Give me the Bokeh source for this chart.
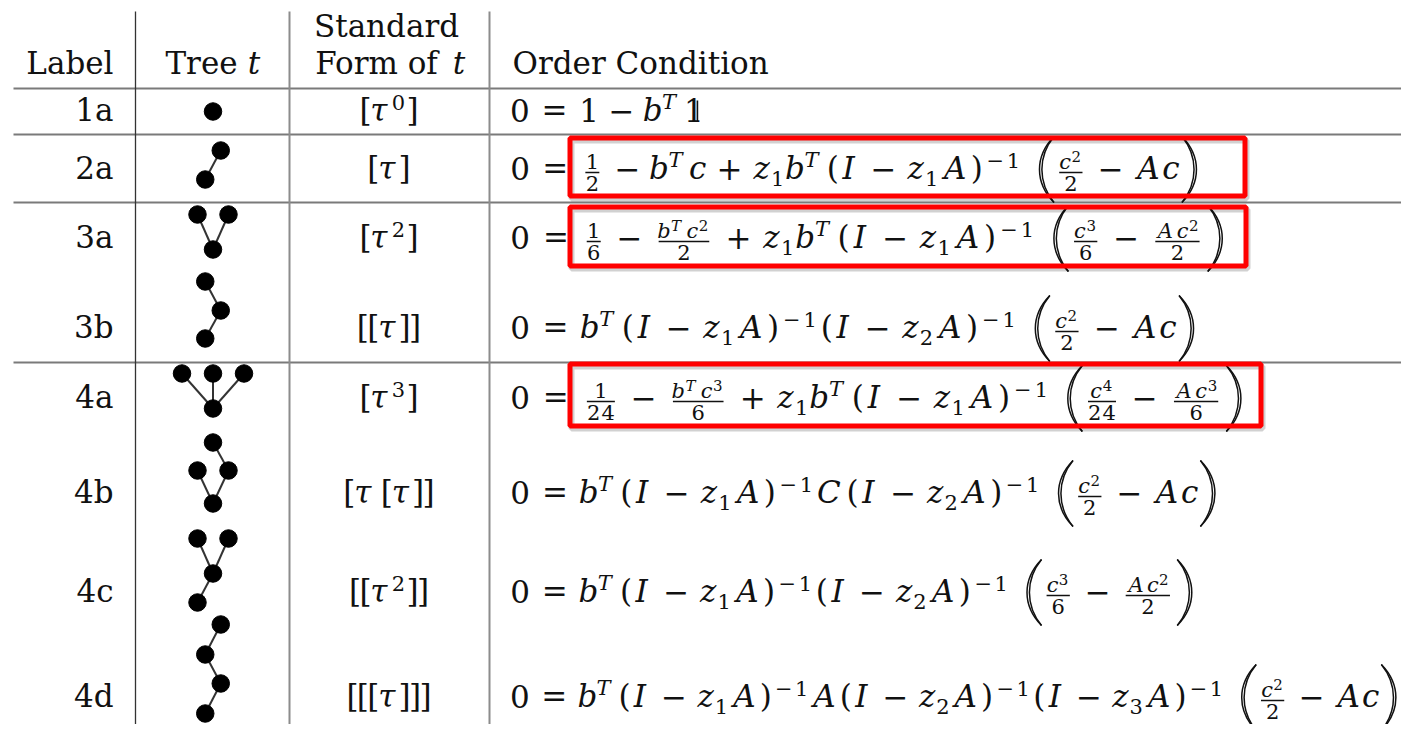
from bokeh.plotting import figure
from bokeh.models import Range1d, ColumnDataSource
from bokeh.core.properties import value
from bokeh.embed import file_html
from bokeh.resources import INLINE

# ---------------- data ----------------
labels = ["1a", "2a", "3a", "3b", "4a", "4b", "4c", "4d"]
standard_forms = [r"[\tau^0]", r"[\tau]", r"[\tau^2]", r"[[\tau]]",
                  r"[\tau^3]", r"[\tau\,[\tau]]", r"[[\tau^2]]", r"[[[\tau]]]"]
order_conditions = [
    r"0 = 1 - b^T\one",
    r"0 = \frac{1}{2} - b^Tc + z_1b^T(I - z_1A)^{-1}\,\left(\frac{c^2}{2} - Ac\right)",
    r"0 = \frac{1}{6} - \frac{b^Tc^2}{2} + z_1b^T(I - z_1A)^{-1}\,\left(\frac{c^3}{6} - \frac{Ac^2}{2}\right)",
    r"0 = b^T(I - z_1A)^{-1}(I - z_2A)^{-1}\,\left(\frac{c^2}{2} - Ac\right)",
    r"0 = \frac{1}{24} - \frac{b^Tc^3}{6} + z_1b^T(I - z_1A)^{-1}\,\left(\frac{c^4}{24} - \frac{Ac^3}{6}\right)",
    r"0 = b^T(I - z_1A)^{-1}C(I - z_2A)^{-1}\,\left(\frac{c^2}{2} - Ac\right)",
    r"0 = b^T(I - z_1A)^{-1}(I - z_2A)^{-1}\,\left(\frac{c^3}{6} - \frac{Ac^2}{2}\right)",
    r"0 = b^T(I - z_1A)^{-1}A(I - z_2A)^{-1}(I - z_3A)^{-1}\,\left(\frac{c^2}{2} - Ac\right)",
]
# rooted trees: node column offset, node height above the root, parent index
tree_cols = [[0], [-1, 1], [0, -2, 2], [-1, 1, -1], [0, -4, 0, 4],
             [0, -2, 2, 0], [-2, 0, -2, 2], [-1, 1, -1, 1]]
tree_heights = [[0], [0, 29], [0, 35, 35], [0, 28, 57], [0, 35, 35, 35],
                [0, 33, 33, 61], [0, 29, 64, 64], [0, 30, 59, 89]]
tree_parents = [[-1], [-1, 0], [-1, 0, 0], [-1, 0, 1], [-1, 0, 0, 0],
                [-1, 0, 0, 2], [-1, 0, 1, 1], [-1, 0, 1, 2]]
highlighted = ["2a", "3a", "4a"]
header_label = "Label"
header_tree = ("Tree", "t")
header_form = ("Standard", "Form of", "t")
header_cond = "Order Condition"

# ---------------- layout ----------------
PW_, PH_ = 1401, 724
FONT = "DejaVu Serif"
INK = "#111111"
KBASE = 0.355                 # baseline correction (fraction of font size)
row_baseline = [121, 179, 248, 338, 408, 503, 602, 707]
tree_root_off = [-10, 0, 1, 0, 0, 0, 0, 6]
eq_hscale = [1.0, 1.015, 1.032, 1.024, 1.031, 1.011, 1.008, 0.995]
TREE_CX, TREE_UNIT = 212.5, 7.75
LABEL_RIGHT = 113
FORM_CX = 388.5
EQ_X = 510
hrules_y = [88, 134, 202, 362]
vrules = [(135, "#333333", 1.3), (289, "#8c8c8c", 2.0), (489, "#8c8c8c", 2.0)]
red_boxes = {"2a": (567, 1247, 135, 198), "3a": (567, 1248, 204, 268), "4a": (567, 1263, 361, 428)}

FS = {0: 31, 1: 21, 2: 15}          # font size per math level
HS = {0: 37.7, 1: 28.0, 2: 19.5}    # horizontal em per math level
CAP = {0: 22.6, 1: 15.3, 2: 11.0}
SUP = {0: 12, 1: 7, 2: 5}
SUB = {0: 6, 1: 3, 2: 2}
BAR, GAPN, GAPD = 7.0, 3.5, 3.5
PTOP, PBOT, PINK = 43, 23, 14.5

WID_UP = {str(d): 0.5 for d in range(10)}
WID_UP.update({'(': 0.389, ')': 0.389, '[': 0.278, ']': 0.278, '=': 0.778,
               '+': 0.778, '\u2212': 0.778, 'one': 0.6})
WID_IT = {'b': 0.429, 'c': 0.433, 'z': 0.465, 'A': 0.75, 'I': 0.44, 'T': 0.584,
          'C': 0.715, 't': 0.361, '\u03c4': 0.437}
ITC = {'T': 0.13, 'I': 0.078, 'C': 0.071, 'z': 0.044, '\u03c4': 0.113}


def tokenize(s):
    toks, i = [], 0
    while i < len(s):
        ch = s[i]
        if ch.isspace():
            i += 1
            continue
        if ch == '\\':
            j = i + 1
            if j < len(s) and not s[j].isalpha():
                toks.append(s[i:j + 1]); i = j + 1; continue
            while j < len(s) and s[j].isalpha():
                j += 1
            toks.append(s[i:j]); i = j
            continue
        toks.append(ch); i += 1
    return toks


def glyph(ch, italic, kind):
    return {'kind': kind, 'type': 'glyph', 'ch': ch, 'italic': italic}


def parse_arg(toks, i):
    if toks[i] == '{':
        atoms, i = parse_list(toks, i + 1, '}')
        return atoms, i + 1
    atoms, _ = parse_list([toks[i]], 0)
    return atoms, i + 1


def parse_list(toks, i, stop=None):
    atoms = []
    while i < len(toks):
        t = toks[i]
        if stop is not None and t == stop:
            return atoms, i
        if t in ('^', '_'):
            arg, i = parse_arg(toks, i + 1)
            atoms[-1]['sup' if t == '^' else 'sub'] = arg
            continue
        if t == '\\frac':
            num, i = parse_arg(toks, i + 1)
            den, i = parse_arg(toks, i)
            atoms.append({'kind': 'inner', 'type': 'frac', 'num': num, 'den': den})
            continue
        if t == '\\left':
            l = toks[i + 1]
            body, i = parse_list(toks, i + 2, '\\right')
            r = toks[i + 1]
            atoms.append({'kind': 'inner', 'type': 'delim', 'l': l, 'r': r, 'body': body})
            i += 2
            continue
        i += 1
        if t == '\\,':
            atoms.append({'kind': 'space', 'w': 1 / 6})
        elif t == '\\;':
            atoms.append({'kind': 'space', 'w': 5 / 18})
        elif t == '\\tau':
            atoms.append(glyph('\u03c4', True, 'ord'))
        elif t == '\\one':
            atoms.append(glyph('one', False, 'ord'))
        elif t.isdigit():
            atoms.append(glyph(t, False, 'ord'))
        elif t.isalpha():
            atoms.append(glyph(t, True, 'ord'))
        elif t == '=':
            atoms.append(glyph('=', False, 'rel'))
        elif t == '+':
            atoms.append(glyph('+', False, 'bin'))
        elif t == '-':
            atoms.append(glyph('\u2212', False, 'bin'))
        elif t in '([':
            atoms.append(glyph(t, False, 'open'))
        elif t in ')]':
            atoms.append(glyph(t, False, 'close'))
    return atoms, i


def shift(prims, dx, dy):
    out = []
    for q in prims:
        if q[0] == 'g':
            out.append(('g', q[1] + dx, q[2] + dy, q[3], q[4], q[5]))
        elif q[0] == 'r':
            out.append(('r', q[1] + dx, q[2] + dx, q[3] + dy))
        elif q[0] == 'p':
            out.append(('p', q[1] + dx, q[2] + dx, q[3], q[4] + dy, q[5] + dy))
        elif q[0] == 's':
            out.append(('s', q[1] + dx, q[2] + dy, q[3] + dy))
    return out


def hstretch(prims, x0, s):
    """spread positions about x0 by factor s, keeping every mark's own size"""
    f = lambda x: x0 + (x - x0) * s
    out = []
    for q in prims:
        if q[0] == 'g':
            out.append(('g', f(q[1]), q[2], q[3], q[4], q[5]))
        elif q[0] == 'r':
            c, hw = (q[1] + q[2]) / 2, (q[2] - q[1]) / 2
            out.append(('r', f(c) - hw, f(c) + hw, q[3]))
        elif q[0] == 'p':
            c, hw = (q[1] + q[2]) / 2, (q[2] - q[1]) / 2
            out.append(('p', f(c) - hw, f(c) + hw, q[3], q[4], q[5]))
        elif q[0] == 's':
            out.append(('s', f(q[1]), q[2], q[3]))
    return out


def gap(a, b, level):
    if level > 0:
        return 0.0
    if a == 'bin' or b == 'bin':
        return 4 / 18
    if a == 'rel' and b not in ('rel', 'close'):
        return 5 / 18
    if b == 'rel' and a not in ('rel', 'open'):
        return 5 / 18
    if a == 'inner' and b != 'close':
        return 1 / 6
    if b == 'inner' and a in ('ord', 'close', 'inner'):
        return 1 / 6
    return 0.0


def layout_atom(a, level):
    H = HS[level]
    ic = 0.0
    if a['type'] == 'glyph':
        ch, it = a['ch'], a['italic']
        base = (WID_IT if it else WID_UP)[ch] * H
        ic = ITC.get(ch, 0) * H if it else 0.0
        if ch == 'one':
            prims = [('g', base / 2, 0.0, '1', level, False),
                     ('s', base / 2 + 3.5, -CAP[level] + 1.5, -0.5)]
        else:
            prims = [('g', base / 2, 0.0, ch, level, it)]
        wn = base + ic
    elif a['type'] == 'frac':
        sl = min(level + 1, 2)
        nw, npr = layout(a['num'], sl)
        dw, dpr = layout(a['den'], sl)
        m = max(nw, dw)
        nd = 0.12 * H
        prims = (shift(npr, nd + (m - nw) / 2, -(BAR + GAPN)) +
                 shift(dpr, nd + (m - dw) / 2, -BAR + GAPD + CAP[sl]) +
                 [('r', nd, nd + m, -BAR)])
        wn = m + 2 * nd
    else:
        bw, bpr = layout(a['body'], level)
        pw = 0.5 * H
        prims = ([('p', 4.0, 4.0 + PINK, 'l', -PTOP, PBOT)] + shift(bpr, pw, 0) +
                 [('p', pw + bw + 2.5, pw + bw + 2.5 + PINK, 'r', -PTOP, PBOT)])
        wn = 2 * pw + bw + 4
    sup, sub = a.get('sup'), a.get('sub')
    if sup or sub:
        sl = min(level + 1, 2)
        extra = 0.0
        if sup:
            sw, sp = layout(sup, sl)
            prims += shift(sp, wn, -SUP[level])
            extra = max(extra, sw)
        if sub:
            bw2, bp = layout(sub, sl)
            prims += shift(bp, wn - ic, SUB[level])
            extra = max(extra, bw2 - ic)
        wn += extra + 0.05 * H
    return wn, prims


def layout(atoms, level):
    H = HS[level]
    kinds = [a['kind'] for a in atoms]
    idxs = [n for n, k in enumerate(kinds) if k != 'space']
    for pos, n in enumerate(idxs):
        if kinds[n] == 'bin':
            prev = kinds[idxs[pos - 1]] if pos > 0 else None
            nxt = kinds[idxs[pos + 1]] if pos + 1 < len(idxs) else None
            if prev in (None, 'bin', 'rel', 'open') or nxt in (None, 'rel', 'close'):
                kinds[n] = 'ord'
    x, prims, prevk = 0.0, [], None
    for a, k in zip(atoms, kinds):
        if k == 'space':
            x += a['w'] * H
            continue
        if prevk is not None:
            x += gap(prevk, k, level) * H
        w, pp = layout_atom(a, level)
        prims += shift(pp, x, 0)
        x += w
        prevk = k
    return x, prims


def typeset(tex):
    atoms, _ = parse_list(tokenize(tex), 0)
    return layout(atoms, 0)


def by(y, size):
    """screen y for a text whose alphabetic baseline should sit at y"""
    return y - KBASE * size


# collect primitives
all_prims = []
for r, lab in enumerate(labels):
    y0 = row_baseline[r]
    w, pr = typeset(standard_forms[r])
    all_prims += shift(pr, FORM_CX - w / 2, y0)
    w, pr = typeset(order_conditions[r])
    all_prims += hstretch(shift(pr, EQ_X, y0), EQ_X, eq_hscale[r])

tx, ty, tt, tsz, tst = [], [], [], [], []
rx0, rx1, ry = [], [], []
sx, sy0, sy1 = [], [], []
bz = dict(x0=[], y0=[], x1=[], y1=[], cx0=[], cy0=[], cx1=[], cy1=[])
for q in all_prims:
    if q[0] == 'g':
        tx.append(q[1]); ty.append(by(q[2], FS[q[4]])); tt.append(q[3])
        tsz.append("%dpx" % FS[q[4]]); tst.append("italic" if q[5] else "normal")
    elif q[0] == 'r':
        rx0.append(q[1]); rx1.append(q[2]); ry.append(q[3])
    elif q[0] == 's':
        sx.append(q[1]); sy0.append(q[2]); sy1.append(q[3])
    else:
        xl, xr, side, yt, yb = q[1], q[2], q[3], q[4], q[5]
        w = xr - xl
        h = yb - yt
        for extra in (0.0, 3.2):
            if side == 'l':
                xe = xr
                c = xl - w / 3 + extra
            else:
                xe = xl
                c = xr + w / 3 - extra
            bz['x0'].append(xe); bz['y0'].append(yt)
            bz['x1'].append(xe); bz['y1'].append(yb)
            bz['cx0'].append(c); bz['cy0'].append(yt + 0.3 * h)
            bz['cx1'].append(c); bz['cy1'].append(yb - 0.3 * h)

# ---------------- figure ----------------
p = figure(width=PW_, height=PH_, x_range=Range1d(0, PW_), y_range=Range1d(PH_, 0),
           output_backend="svg", toolbar_location=None, x_axis_type=None, y_axis_type=None,
           min_border=0)
p.grid.visible = False
p.outline_line_color = None
p.background_fill_color = "white"
p.border_fill_color = "white"

# table rules
p.segment(x0=[13] * len(hrules_y), x1=[PW_] * len(hrules_y), y0=hrules_y, y1=hrules_y,
          line_color="#7a7a7a", line_width=2)
for vx, vc, vw in vrules:
    p.segment(x0=[vx], x1=[vx], y0=[11], y1=[PH_], line_color=vc, line_width=vw)

# trees
ex0, ey0, ex1, ey1, nx, ny = [], [], [], [], [], []
for r in range(len(labels)):
    root_y = row_baseline[r] + tree_root_off[r]
    xs = [TREE_CX + c * TREE_UNIT for c in tree_cols[r]]
    ys = [root_y - h for h in tree_heights[r]]
    for n, par in enumerate(tree_parents[r]):
        if par >= 0:
            ex0.append(xs[par]); ey0.append(ys[par]); ex1.append(xs[n]); ey1.append(ys[n])
    nx += xs; ny += ys
p.segment(x0=ex0, y0=ey0, x1=ex1, y1=ey1, line_color="#333333", line_width=2)
p.scatter(x=nx, y=ny, size=17.5, marker="circle", fill_color="black", line_color="black")

# header texts
HF = 31
p.text(x=[LABEL_RIGHT], y=[by(74, HF)], text=[header_label], text_font=value(FONT),
       text_font_size="%dpx" % HF, text_align="right", text_baseline="alphabetic", text_color=INK)
p.text(x=[201, 386, 376], y=[by(74, HF), by(37, HF), by(74, HF)],
       text=[header_tree[0], header_form[0], header_form[1]],
       text_font=value(FONT), text_font_size="%dpx" % HF, text_align="center",
       text_baseline="alphabetic", text_color=INK)
p.text(x=[512], y=[by(74, HF)], text=[header_cond], text_font=value(FONT),
       text_font_size="%dpx" % HF, text_align="left", text_baseline="alphabetic", text_color=INK)
p.text(x=[253.5, 458.5], y=[by(74, HF), by(74, HF)], text=[header_tree[1], header_form[2]],
       text_font=value(FONT), text_font_size="%dpx" % HF, text_font_style="italic",
       text_align="center", text_baseline="alphabetic", text_color=INK)

# row labels
p.text(x=[LABEL_RIGHT] * len(labels), y=[by(v, HF) for v in row_baseline], text=labels,
       text_font=value(FONT), text_font_size="%dpx" % HF, text_align="right",
       text_baseline="alphabetic", text_color=INK)

# math glyphs
msrc = ColumnDataSource(dict(x=tx, y=ty, text=tt, size=tsz, style=tst))
p.text(x='x', y='y', text='text', source=msrc, text_font=value(FONT), text_font_size='size',
       text_font_style='style', text_align="center", text_baseline="alphabetic", text_color=INK)
p.segment(x0=rx0, x1=rx1, y0=ry, y1=ry, line_color=INK, line_width=1.5)
p.segment(x0=sx, x1=sx, y0=sy0, y1=sy1, line_color=INK, line_width=1.6)
p.bezier(source=ColumnDataSource(bz), x0='x0', y0='y0', x1='x1', y1='y1',
         cx0='cx0', cy0='cy0', cx1='cx1', cy1='cy1', line_color=INK, line_width=1.5)

# red highlight boxes (with soft shadow)
bl = [red_boxes[k][0] + 2.5 for k in highlighted]
br = [red_boxes[k][1] - 2.5 for k in highlighted]
bt = [red_boxes[k][2] + 2.5 for k in highlighted]
bb = [red_boxes[k][3] - 2.5 for k in highlighted]
p.quad(left=[v + 1.5 for v in bl], right=[v + 1.5 for v in br], top=[v + 2.5 for v in bt],
       bottom=[v + 2.5 for v in bb], fill_color=None, line_color="black", line_alpha=0.18, line_width=6)
p.quad(left=bl, right=br, top=bt, bottom=bb, fill_color=None, line_color="#ff0000", line_width=5)

open("out.html", "w").write(file_html(p, INLINE))
